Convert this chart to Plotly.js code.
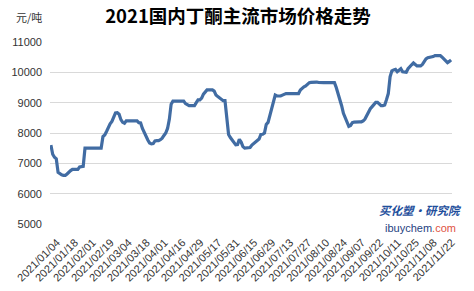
<!DOCTYPE html>
<html>
<head>
<meta charset="utf-8">
<script src="https://cdn.plot.ly/plotly-3.0.1.min.js"></script>
<style>html,body{margin:0;padding:0;background:#fff;}#chart{width:474px;height:291px;}</style>
</head>
<body>
<div id="chart"></div>
<script>
// Chinese working-day calendar 2021 (category axis)
const startDate = '2021-01-04';
const endDate = '2021-11-25';
const holidays = ['2021-02-11','2021-02-12','2021-02-15','2021-02-16','2021-02-17','2021-04-05','2021-05-03','2021-05-04','2021-05-05','2021-06-14','2021-09-20','2021-09-21','2021-10-01','2021-10-04','2021-10-05','2021-10-06','2021-10-07'];
const makeupWorkdays = ['2021-02-07','2021-02-20','2021-04-25','2021-05-08','2021-09-18','2021-09-26','2021-10-09'];

const tickLabels = ['2021/01/04','2021/01/18','2021/02/01','2021/02/19','2021/03/04','2021/03/18','2021/04/01','2021/04/16','2021/04/29','2021/05/17','2021/05/31','2021/06/15','2021/06/29','2021/07/13','2021/07/27','2021/08/10','2021/08/24','2021/09/07','2021/09/22','2021/10/11','2021/10/25','2021/11/08','2021/11/22'];

const prices = [
7600,7300,7200,7150,6700,6650,6620,6600,6600,6650,
6720,6760,6800,6800,6780,6800,6880,6900,6900,7500,
7500,7500,7500,7500,7500,7500,7500,7500,7500,7880,
7935,8050,8210,8300,8380,8560,8660,8670,8620,8440,
8350,8320,8400,8400,8400,8400,8400,8400,8400,8340,
8330,8150,8000,7880,7770,7670,7640,7650,7740,7750,
7750,7780,7830,7920,8000,8150,8450,8950,9050,9050,
9050,9050,9050,9050,9050,8970,8920,8900,8900,8900,
8900,9000,9090,9090,9150,9280,9350,9420,9420,9420,
9420,9380,9250,9200,9160,9100,9066,9066,8500,7950,
7850,7770,7680,7610,7620,7790,7700,7550,7500,7500,
7500,7520,7600,7650,7710,7750,7800,7950,7960,8000,
8280,8350,8600,8800,9100,9250,9220,9220,9220,9250,
9290,9300,9300,9300,9300,9300,9300,9300,9300,9420,
9480,9520,9550,9600,9660,9670,9680,9680,9680,9670,
9660,9660,9660,9660,9660,9660,9660,9660,9660,9500,
9300,9150,8900,8650,8480,8350,8220,8250,8340,8360,
8370,8370,8370,8370,8400,8460,8580,8720,8800,8870,
8950,9010,9010,8960,8900,8900,8920,9100,9300,9850,
10050,10080,10100,10020,10080,10120,10020,10000,10000,10120,
10200,10250,10310,10240,10210,10210,10210,10260,10370,10440,
10480,10490,10495,10520,10550,10550,10550,10550,10500,10450,
10380,10320,10360,10410
];

function buildDates() {
  const out = [];
  const d = new Date(startDate + 'T00:00:00Z');
  const end = new Date(endDate + 'T00:00:00Z');
  while (d <= end) {
    const iso = d.toISOString().slice(0,10);
    const wd = d.getUTCDay();
    const isWork = (makeupWorkdays.includes(iso)) || (wd !== 0 && wd !== 6 && !holidays.includes(iso));
    if (isWork) out.push(iso.replace(/-/g,'/'));
    d.setUTCDate(d.getUTCDate()+1);
  }
  return out;
}
const dates = buildDates();
const n = Math.min(dates.length, prices.length);
const xs = dates.slice(0,n), ys = prices.slice(0,n);

const trace = {
  x: xs, y: ys, type: 'scatter', mode: 'lines',
  line: {color: '#416ca3', width: 3.2},
  hoverinfo: 'skip'
};

const L = 50, R = 22, T = 42, B = 67;
const PW = 474 - L - R, PH = 291 - T - B;

const layout = {
  width: 474, height: 291,
  margin: {l: L, r: R, t: T, b: B},
  paper_bgcolor: '#ffffff', plot_bgcolor: '#ffffff',
  showlegend: false,
  font: {family: '"Liberation Sans", Arial, sans-serif', color: '#333333'},
  title: {
    text: '<b>2021国内丁酮主流市场价格走势</b>',
    font: {family: '"Noto Sans CJK SC", sans-serif', size: 18.5, color: '#000000'},
    x: 238/474, xref: 'container', xanchor: 'center',
    y: 1 - 17/291, yref: 'container', yanchor: 'middle'
  },
  xaxis: {
    type: 'category',
    categoryorder: 'array', categoryarray: xs,
    range: [-0.5, n - 0.5],
    tickmode: 'array', tickvals: tickLabels, ticktext: tickLabels,
    tickangle: -45, ticks: '', showgrid: false, showline: false, zeroline: false,
    tickfont: {size: 11, color: '#333333'},
    ticklabelstandoff: 9, ticklabelshift: 6,
    automargin: false
  },
  yaxis: {
    range: [5000, 11000], dtick: 1000, tick0: 5000, tickformat: 'd',
    showgrid: true, gridcolor: '#d9d9d9', gridwidth: 1,
    zeroline: false, showline: false, ticks: '',
    tickfont: {size: 11, color: '#333333'},
    ticklabelstandoff: 7,
    automargin: false
  },
  annotations: [
    {text: '元/吨', xref: 'paper', yref: 'paper', x: (29-L)/PW, y: 1 + 25/PH, xanchor: 'center', yanchor: 'middle',
     showarrow: false, font: {family: '"Noto Sans CJK SC", sans-serif', size: 11, color: '#333333'}},
    {text: '<b><i>买化塑·研究院</i></b>', xref: 'paper', yref: 'paper', x: (464-L)/PW, y: (224-210)/PH, xanchor: 'right', yanchor: 'middle',
     showarrow: false, font: {family: '"Noto Sans CJK SC", sans-serif', size: 11.5, color: '#1f4f9c'}},
    {text: '<span style="color:#1f3f7f">ibuychem</span><span style="color:#e0533f">.com</span>', xref: 'paper', yref: 'paper',
     x: (383-L)/PW, y: (224-228)/PH, xanchor: 'left', yanchor: 'middle',
     showarrow: false, font: {family: '"Liberation Sans", Arial, sans-serif', size: 11}}
  ]
};

Plotly.newPlot('chart', [trace], layout, {displayModeBar: false, staticPlot: true});
</script>
</body>
</html>
